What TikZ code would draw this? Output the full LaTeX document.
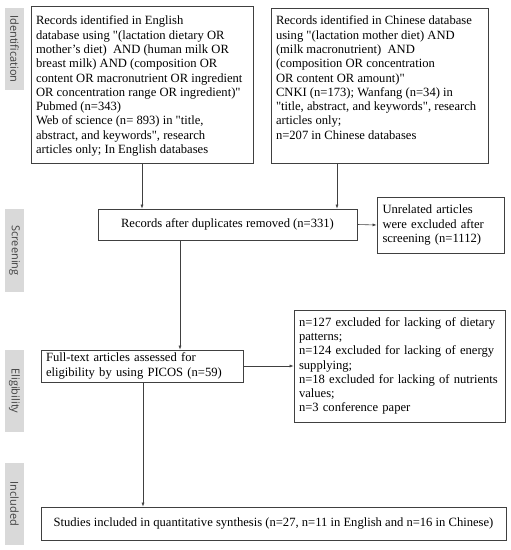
\documentclass[tikz,border=0pt]{standalone}
\usepackage{fontspec}
\setmainfont{Liberation Serif}[Ligatures=TeXOff]
\newfontfamily\stagefont{Open Sans}
\usetikzlibrary{arrows.meta}
\definecolor{linegray}{HTML}{404040}
\definecolor{stagegray}{HTML}{D9D9D9}
\tikzset{
    flowbox/.style={draw=linegray, line width=0.8pt, inner xsep=5pt, inner ysep=0pt,
        font=\fontsize{12.6}{14.3}\selectfont},
    stagebox/.style={fill=stagegray, minimum height=19pt, inner sep=0pt,
        rotate=-90, font=\stagefont\fontsize{11}{13}\selectfont, text=linegray},
    flowarrow/.style={draw=linegray, line width=0.6pt, -{Latex[length=4pt,width=3pt]}}
}
\begin{document}
\begin{tikzpicture}[x=1pt, y=-1pt]
    \useasboundingbox (0,0) rectangle (511,550);
    % stage labels
    \node[stagebox, minimum width=82pt] (ident) at (14.5,49) {Identification};
    \node[stagebox, minimum width=83pt] (screen) at (14.5,250.5) {Screening};
    \node[stagebox, minimum width=82pt] (elig) at (14.5,391) {Eligibility};
    \node[stagebox, minimum width=82pt] (incl) at (14.5,504) {Included};
    % boxes
    \node[flowbox, minimum width=222pt, minimum height=157pt] (english) at (142,84.5)
        {\parbox[c][157pt][t]{212pt}{\raggedright\vspace*{10pt}
        Records identified in English\\
        database using "(lactation dietary OR\\
        mother’s diet)\ \ AND (human milk OR\\
        breast milk) AND (composition OR\\
        content OR macronutrient OR ingredient\\
        OR concentration range OR ingredient)"\\
        Pubmed (n=343)\\
        Web of science (n= 893) in "title,\\
        abstract, and keywords", research\\
        articles only; In English databases}};
    \node[flowbox, minimum width=217pt, minimum height=155pt] (chinese) at (379.5,85.5)
        {\parbox[c][155pt][t]{207pt}{\raggedright\vspace*{8pt}
        Records identified in Chinese database\\
        using "(lactation mother diet) AND\\
        (milk macronutrient)\ \ AND\\
        (composition OR concentration\\
        OR content OR amount)"\\
        CNKI (n=173); Wanfang (n=34) in\\
        "title, abstract, and keywords", research\\
        articles only;\\
        n=207 in Chinese databases}};
    \node[flowbox, minimum width=259pt, minimum height=31pt] (dupl) at (227.5,224.5)
        {Records after duplicates removed (n=331)};
    \node[flowbox, minimum width=127pt, minimum height=56pt, text width=116pt, align=left, inner xsep=5.5pt] (unrel) at (440.5,225)
        {Unrelated articles\\ were excluded after\\ screening (n=1112)};
    \node[flowbox, minimum width=202pt, minimum height=32pt, text width=192pt, align=left] (fulltext) at (142,366)
        {Full-text articles assessed for\\ eligibility by using PICOS (n=59)};
    \node[flowbox, minimum width=211pt, minimum height=112pt, text width=201pt, align=left] (excl) at (399.5,366)
        {n=127 excluded for lacking of dietary\\
        patterns;\\
        n=124 excluded for lacking of energy\\
        supplying;\\
        n=18 excluded for lacking of nutrients\\
        values;\\
        n=3 conference paper};
    \node[flowbox, minimum width=465pt, minimum height=33pt] (studies) at (273.5,523.5)
        {Studies included in quantitative synthesis (n=27, n=11 in English and n=16 in Chinese)};
    % arrows
    \draw[flowarrow] (english.south -| 142,0) -- (dupl.north -| 142,0);
    \draw[flowarrow] (chinese.south -| 337,0) -- (dupl.north -| 337,0);
    \draw[flowarrow] (dupl.east) -- (unrel.west);
    \draw[flowarrow] (dupl.south -| 180,0) -- (fulltext.north -| 180,0);
    \draw[flowarrow] (fulltext.east) -- (excl.west);
    \draw[flowarrow] (fulltext.south -| 143,0) -- (studies.north -| 143,0);
\end{tikzpicture}
\end{document}
